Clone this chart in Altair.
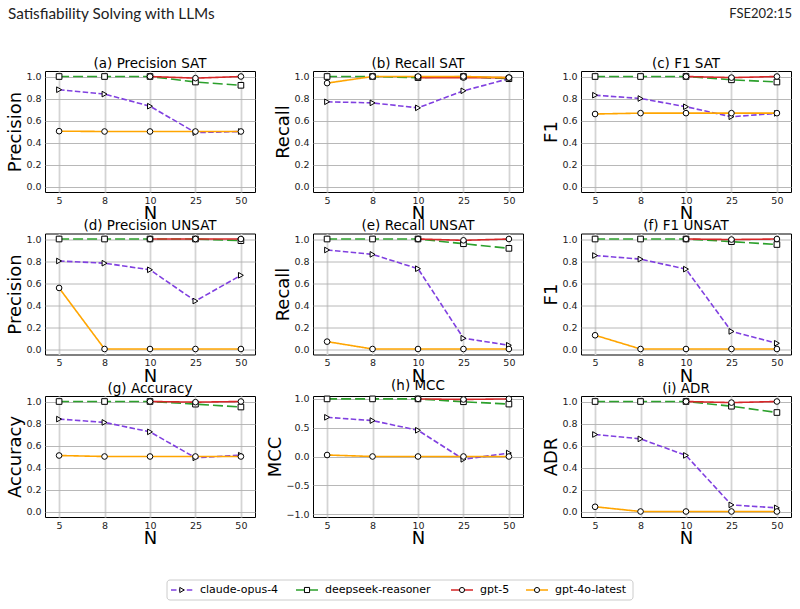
import altair as alt
import pandas as pd

# ---------------- data ----------------
N_VALUES = ["5", "8", "10", "25", "50"]
SERIES = ["claude-opus-4", "deepseek-reasoner", "gpt-5", "gpt-4o-latest"]
COLORS = ["#8040e0", "#2ca02c", "#d62728", "#ffa500"]
DASHES = [[5.5, 2.4], [10, 4], [1, 0], [1, 0]]
SHAPES = ["triangle-right", "square", "circle", "circle"]

prec_sat = {"claude-opus-4": [0.88, 0.84, 0.73, 0.49, 0.50],
            "deepseek-reasoner": [1.0, 1.0, 1.0, 0.95, 0.92],
            "gpt-5": [None, None, 1.0, 0.985, 1.0],
            "gpt-4o-latest": [0.503, 0.50, 0.50, 0.50, 0.50]}
rec_sat = {"claude-opus-4": [0.77, 0.76, 0.715, 0.87, 0.98],
           "deepseek-reasoner": [1.0, 1.0, 0.99, 1.0, 0.98],
           "gpt-5": [None, None, 0.99, 0.99, 0.99],
           "gpt-4o-latest": [0.94, 1.0, 1.0, 1.0, 0.99]}
f1_sat = {"claude-opus-4": [0.83, 0.80, 0.725, 0.634, 0.665],
          "deepseek-reasoner": [1.0, 1.0, 1.0, 0.97, 0.95],
          "gpt-5": [None, None, 1.0, 0.99, 1.0],
          "gpt-4o-latest": [0.659, 0.667, 0.667, 0.667, 0.667]}
prec_unsat = {"claude-opus-4": [0.80, 0.78, 0.72, 0.436, 0.67],
              "deepseek-reasoner": [1.0, 1.0, 1.0, 1.0, 0.985],
              "gpt-5": [None, None, 1.0, 1.0, 1.0],
              "gpt-4o-latest": [0.555, 0.0, 0.0, 0.0, 0.0]}
rec_unsat = {"claude-opus-4": [0.90, 0.86, 0.73, 0.098, 0.034],
             "deepseek-reasoner": [1.0, 1.0, 1.0, 0.957, 0.915],
             "gpt-5": [None, None, 1.0, 0.988, 1.0],
             "gpt-4o-latest": [0.067, 0.0, 0.0, 0.0, 0.0]}
f1_unsat = {"claude-opus-4": [0.85, 0.817, 0.726, 0.16, 0.052],
            "deepseek-reasoner": [1.0, 1.0, 1.0, 0.976, 0.95],
            "gpt-5": [None, None, 1.0, 0.995, 1.0],
            "gpt-4o-latest": [0.125, 0.0, 0.0, 0.0, 0.0]}
accuracy = {"claude-opus-4": [0.84, 0.81, 0.724, 0.488, 0.512],
            "deepseek-reasoner": [1.0, 1.0, 1.0, 0.976, 0.95],
            "gpt-5": [None, None, 1.0, 0.994, 1.0],
            "gpt-4o-latest": [0.509, 0.50, 0.50, 0.50, 0.50]}
mcc = {"claude-opus-4": [0.68, 0.623, 0.455, -0.049, 0.06],
       "deepseek-reasoner": [1.0, 1.0, 1.0, 0.95, 0.91],
       "gpt-5": [None, None, 1.0, 0.99, 1.0],
       "gpt-4o-latest": [0.026, 0.0, 0.0, 0.0, 0.0]}
adr = {"claude-opus-4": [0.70, 0.66, 0.51, 0.06, 0.033],
       "deepseek-reasoner": [1.0, 1.0, 1.0, 0.957, 0.90],
       "gpt-5": [None, None, 1.0, 0.99, 1.0],
       "gpt-4o-latest": [0.043, 0.0, 0.0, 0.0, 0.0]}

PANELS = [
    ("(a) Precision SAT", "Precision", prec_sat, False),
    ("(b) Recall SAT", "Recall", rec_sat, False),
    ("(c) F1 SAT", "F1", f1_sat, False),
    ("(d) Precision UNSAT", "Precision", prec_unsat, False),
    ("(e) Recall UNSAT", "Recall", rec_unsat, False),
    ("(f) F1 UNSAT", "F1", f1_unsat, False),
    ("(g) Accuracy", "Accuracy", accuracy, False),
    ("(h) MCC", "MCC", mcc, True),
    ("(i) ADR", "ADR", adr, False),
]

HEADER_LEFT = "Satisfiability Solving with LLMs"
HEADER_RIGHT = "FSE202:15"

PW, PH = 210, 121
FONT = "DejaVu Sans"


def make_df(values):
    rows = []
    for s in SERIES:
        for i, n in enumerate(N_VALUES):
            v = values[s][i]
            if v is not None:
                rows.append({"series": s, "N": n, "idx": i, "value": v})
    return pd.DataFrame(rows)


def panel(title, ytitle, values, is_mcc):
    df = make_df(values)
    if is_mcc:
        dom, ticks = [-1.05, 1.05], [-1.0, -0.5, 0.0, 0.5, 1.0]
    else:
        dom, ticks = [-0.05, 1.05], [0.0, 0.2, 0.4, 0.6, 0.8, 1.0]
    x = alt.X("N:N", sort=N_VALUES,
              scale=alt.Scale(type="point", padding=0.31, domain=N_VALUES),
              axis=alt.Axis(title="N", labelAngle=0, grid=True, gridColor="#d4d4d4",
                            gridWidth=1.8, ticks=False, domain=False,
                            labelPadding=3, titlePadding=0))
    y = alt.Y("value:Q", scale=alt.Scale(domain=dom, nice=False, zero=False),
              axis=alt.Axis(title=ytitle, values=ticks, format=".1f", grid=True,
                            gridColor="#b0b0b0", gridWidth=0.9, ticks=False,
                            domain=False, labelPadding=4, titlePadding=1))
    color = alt.Color("series:N", scale=alt.Scale(domain=SERIES, range=COLORS), legend=None)
    dash = alt.StrokeDash("series:N", scale=alt.Scale(domain=SERIES, range=DASHES), legend=None)
    shape = alt.Shape("series:N", scale=alt.Scale(domain=SERIES, range=SHAPES), legend=None)
    base = alt.Chart(df)
    lines = base.mark_line(strokeWidth=1.6).encode(
        x=x, y=y, color=color, strokeDash=dash, detail="series:N",
        order=alt.Order("idx:Q"))
    pts = base.mark_point(filled=True, fill="white", stroke="black", strokeWidth=1,
                          size=32, opacity=1).encode(x=x, y=y, shape=shape)
    return alt.layer(lines, pts).properties(
        width=PW, height=PH,
        title=alt.TitleParams(title, fontSize=13.5, font=FONT, fontWeight="normal",
                              offset=1, color="black"))


panels = [panel(*p) for p in PANELS]
grid = alt.concat(*panels, columns=3, spacing={"row": 41.5, "column": 58},
                  bounds="flush")

# ---------------- header ----------------
hl = alt.Chart(pd.DataFrame({"t": [HEADER_LEFT]})).mark_text(
    align="left", baseline="middle", font="Lato", fontSize=15.3, color="#222"
).encode(x=alt.value(-37), y=alt.value(6), text="t:N")
hr = alt.Chart(pd.DataFrame({"t": [HEADER_RIGHT]})).mark_text(
    align="right", baseline="middle", font="Lato", fontSize=13, color="#222"
).encode(x=alt.value(747), y=alt.value(6), text="t:N")
header = alt.layer(hl, hr).properties(
    width=700, height=15, view=alt.ViewBackground(stroke="transparent"))

# ---------------- legend (box + handles) ----------------
BOX_X0, BOX_X1 = 122, 588
LEG_CENTERS = [137, 262, 417, 492]
box = alt.Chart(pd.DataFrame({"k": [0]})).mark_rect(
    fill="white", stroke="#cccccc", strokeWidth=1, cornerRadius=3
).encode(x=alt.value(BOX_X0), x2=alt.value(BOX_X1), y=alt.value(0), y2=alt.value(20))
leg_layers = [box]
for s, c, d, sh, cx in zip(SERIES, COLORS, DASHES, SHAPES, LEG_CENTERS):
    ld = pd.DataFrame({"series": [s]})
    leg_layers.append(alt.Chart(ld).mark_rule(color=c, strokeWidth=1.6, strokeDash=d).encode(
        x=alt.value(cx - 11), x2=alt.value(cx + 11), y=alt.value(10)))
    leg_layers.append(alt.Chart(ld).mark_point(shape=sh, filled=True, fill="white",
                                               stroke="black", strokeWidth=1, size=26,
                                               opacity=1).encode(
        x=alt.value(cx), y=alt.value(10)))
    leg_layers.append(alt.Chart(ld).mark_text(align="left", baseline="middle", font=FONT,
                                              fontSize=11, color="black").encode(
        x=alt.value(cx + 18), y=alt.value(10), text="series:N"))
legend = alt.layer(*leg_layers).properties(
    width=BOX_X1, height=20, view=alt.ViewBackground(stroke="transparent"))

inner = alt.vconcat(grid, legend, spacing=31)
chart = alt.vconcat(header, inner, spacing=32).properties(
    padding={"left": 6, "top": 6, "right": 0, "bottom": 0}
).configure_view(stroke="black", strokeWidth=1).configure_axis(
    labelFont=FONT, labelFontSize=9.5, labelColor="#222",
    titleFont=FONT, titleFontSize=18, titleFontWeight="normal", titleColor="black"
)

chart.save("out.html", embed_options={"renderer": "svg", "actions": False})
